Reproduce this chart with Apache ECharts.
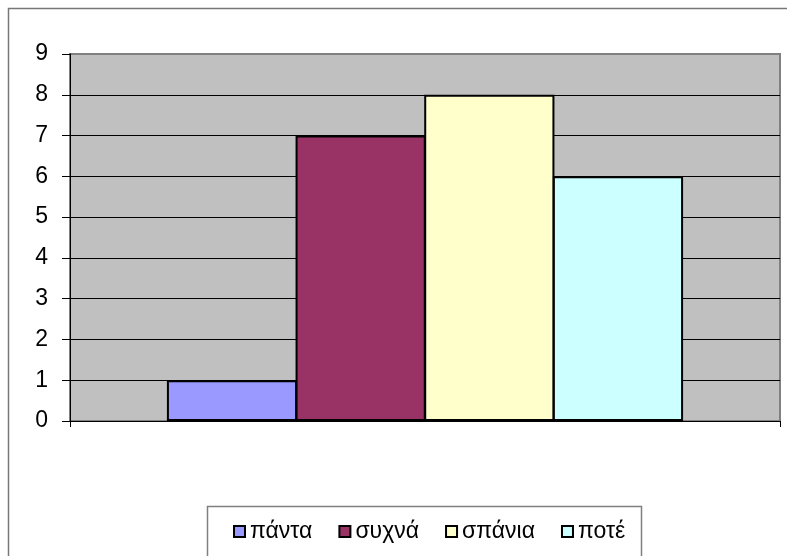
<!DOCTYPE html>
<html>
<head>
<meta charset="utf-8">
<script src="https://cdn.jsdelivr.net/npm/echarts@6/dist/echarts.min.js"></script>
<style>
  html, body { margin: 0; padding: 0; background: #fff; }
  #chart { width: 787px; height: 556px; }
</style>
</head>
<body>
<div id="chart"></div>
<script>
// one category, four answers
const seriesNames = ['πάντα', 'συχνά', 'σπάνια', 'ποτέ'];
const seriesValues = [1, 7, 8, 6];
const seriesColors = ['#9999FF', '#993366', '#FFFFCC', '#CCFFFF'];
const yTicks = [0, 1, 2, 3, 4, 5, 6, 7, 8, 9];

const font = '"Liberation Sans", Arial, sans-serif';
let myChart = echarts.init(document.getElementById('chart'));

// split lines black, the top one grey like the plot border
let splitColors = yTicks.map((v, i) => i === yTicks.length - 1 ? '#808080' : '#000');

let option = {
  animation: false,
  backgroundColor: '#fff',
  textStyle: { fontFamily: font, color: '#000' },
  graphic: [
    {
      type: 'rect',
      shape: { x: 8.5, y: 8.5, width: 800, height: 600 },
      style: { fill: 'none', stroke: '#777', lineWidth: 1.5 },
      silent: true
    },
    {
      type: 'rect',
      shape: { x: 207.5, y: 506.5, width: 434, height: 100 },
      style: { fill: '#fff', stroke: '#808080', lineWidth: 1.5 },
      silent: true
    }
  ],
  grid: {
    left: 70,
    right: 7,
    top: 54,
    bottom: 135,
    show: true,
    backgroundColor: '#C0C0C0',
    borderColor: '#808080',
    borderWidth: 2
  },
  legend: {
    data: seriesNames,
    left: 233,
    top: 520,
    padding: 0,
    itemWidth: 11,
    itemHeight: 11,
    itemGap: 26,
    icon: 'rect',
    textStyle: { fontFamily: font, fontSize: 23, color: '#000', padding: [0, 0, 0, 0] }
  },
  xAxis: {
    type: 'category',
    data: [''],
    axisLine: { lineStyle: { color: '#000', width: 1 } },
    axisTick: { show: true, length: 6, lineStyle: { color: '#000' } },
    axisLabel: { show: false }
  },
  yAxis: {
    type: 'value',
    min: 0,
    max: 9,
    interval: 1,
    axisLine: { show: true, lineStyle: { color: '#000', width: 1 } },
    axisTick: { show: true, length: 8, lineStyle: { color: '#000' } },
    axisLabel: { fontFamily: font, fontSize: 23, color: '#000', margin: 22 },
    splitLine: { show: true, lineStyle: { color: splitColors, width: 1 } }
  },
  series: seriesNames.map((name, i) => ({
    name: name,
    type: 'bar',
    data: [seriesValues[i]],
    barGap: '-1.2%',
    barCategoryGap: '27.3%',
    itemStyle: { color: seriesColors[i], borderColor: '#000', borderWidth: 2 }
  }))
};

option && myChart.setOption(option);
</script>
</body>
</html>
